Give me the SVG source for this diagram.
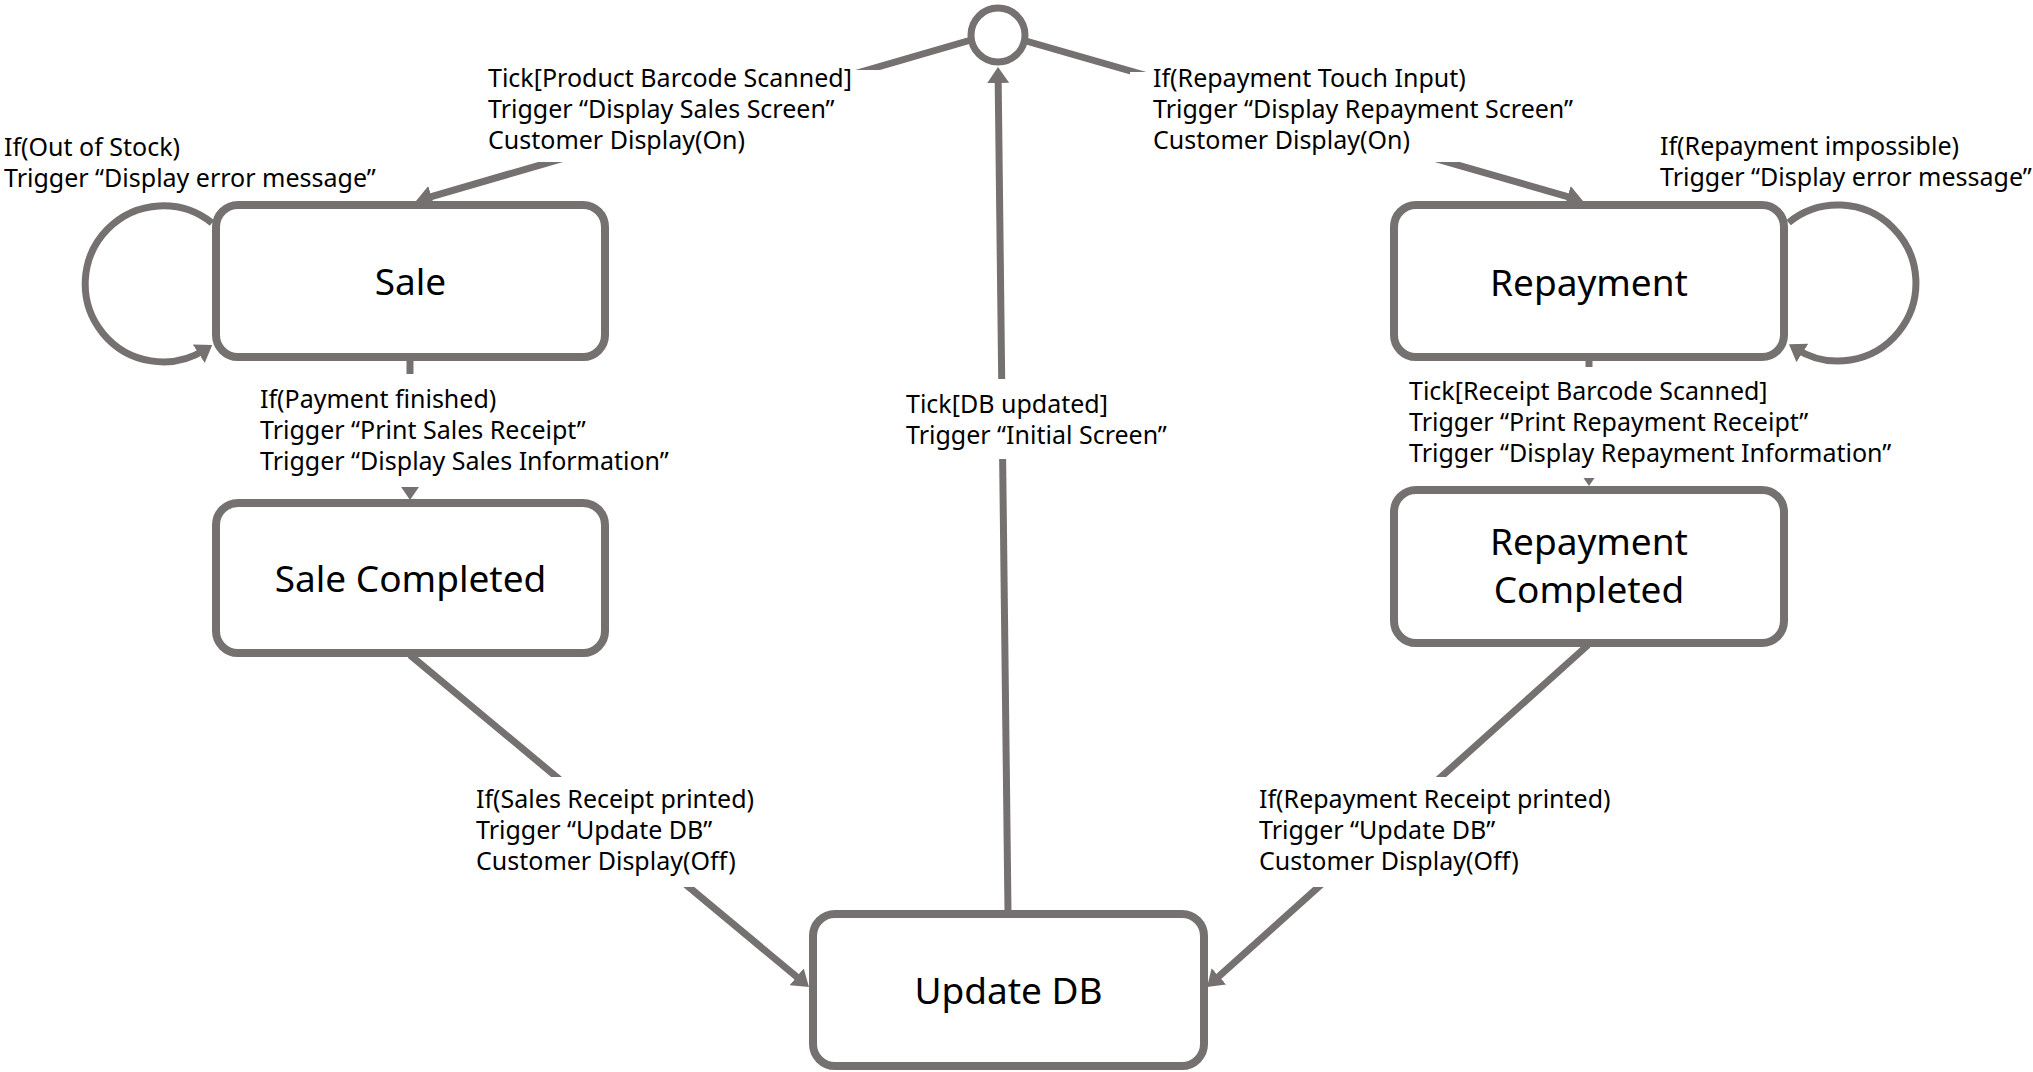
<svg xmlns="http://www.w3.org/2000/svg" width="2033" height="1072" viewBox="0 0 2033 1072">
<style>
.node{fill:#ffffff;stroke:#767171;stroke-width:8}
.ntext{font-family:"Noto Sans","Liberation Sans",sans-serif;font-size:37px;fill:#000000;text-anchor:middle}
.edge{fill:none;stroke:#767171;stroke-width:7}
.lbl{font-family:"Noto Sans","Liberation Sans",sans-serif;font-size:25px;fill:#000000}
.lbg{fill:#ffffff;stroke:none}
</style>
<defs>
<marker id="arr" viewBox="0 0 16 22" refX="8" refY="11" markerWidth="16" markerHeight="22" markerUnits="userSpaceOnUse" orient="auto">
<path d="M0,0 L16,11 L0,22 z" fill="#767171"/>
</marker>
</defs>
<rect width="2033" height="1072" fill="#ffffff"/>

<g id="connectors">
  <g id="e-choice-sale">
    <path class="edge" d="M971 40 L423.7 198.8" marker-end="url(#arr)"/>
    <rect class="lbg" x="484" y="70" width="396" height="92"/>
    <text class="lbl" x="488" y="87">Tick[Product Barcode Scanned]</text>
    <text class="lbl" x="488" y="118">Trigger “Display Sales Screen”</text>
    <text class="lbl" x="488" y="149">Customer Display(On)</text>
  </g>
  <g id="e-choice-repayment">
    <path class="edge" d="M1026 41 L1575.3 198.8" marker-end="url(#arr)"/>
    <rect class="lbg" x="1130" y="72" width="470" height="90"/>
    <text class="lbl" x="1153" y="87">If(Repayment Touch Input)</text>
    <text class="lbl" x="1153" y="118">Trigger “Display Repayment Screen”</text>
    <text class="lbl" x="1153" y="149">Customer Display(On)</text>
  </g>
  <g id="e-sale-loop">
    <path class="edge" d="M212 223 A78 78 0 1 0 205.5 349.4" marker-end="url(#arr)"/>
    <text class="lbl" x="4" y="156">If(Out of Stock)</text>
    <text class="lbl" x="4" y="187">Trigger “Display error message”</text>
  </g>
  <g id="e-repayment-loop">
    <path class="edge" d="M1788.6 222.6 A78 78 0 1 1 1795.7 348.6" marker-end="url(#arr)"/>
    <text class="lbl" x="1660" y="155">If(Repayment impossible)</text>
    <text class="lbl" x="1660" y="186">Trigger “Display error message”</text>
  </g>
  <g id="e-sale-salecompleted">
    <path class="edge" d="M410 357 L410 492" marker-end="url(#arr)"/>
    <rect class="lbg" x="255" y="374" width="420" height="113"/>
    <text class="lbl" x="260" y="408">If(Payment finished)</text>
    <text class="lbl" x="260" y="439">Trigger “Print Sales Receipt”</text>
    <text class="lbl" x="260" y="470">Trigger “Display Sales Information”</text>
  </g>
  <g id="e-repayment-repaymentcompleted">
    <path class="edge" d="M1589 357 L1589 478" marker-end="url(#arr)"/>
    <rect class="lbg" x="1400" y="367" width="490" height="111"/>
    <text class="lbl" x="1409" y="400">Tick[Receipt Barcode Scanned]</text>
    <text class="lbl" x="1409" y="431">Trigger “Print Repayment Receipt”</text>
    <text class="lbl" x="1409" y="462">Trigger “Display Repayment Information”</text>
  </g>
  <g id="e-updatedb-choice">
    <path class="edge" d="M1008 912 L998.1 75" marker-end="url(#arr)"/>
    <rect class="lbg" x="900" y="379" width="270" height="80"/>
    <text class="lbl" x="906" y="413">Tick[DB updated]</text>
    <text class="lbl" x="906" y="444">Trigger “Initial Screen”</text>
  </g>
  <g id="e-salecompleted-updatedb">
    <path class="edge" d="M410 655 L802.8 981.9" marker-end="url(#arr)"/>
    <rect class="lbg" x="470" y="777" width="290" height="110"/>
    <text class="lbl" x="476" y="808">If(Sales Receipt printed)</text>
    <text class="lbl" x="476" y="839">Trigger “Update DB”</text>
    <text class="lbl" x="476" y="870">Customer Display(Off)</text>
  </g>
  <g id="e-repaymentcompleted-updatedb">
    <path class="edge" d="M1588 645 L1213 981.7" marker-end="url(#arr)"/>
    <rect class="lbg" x="1250" y="777" width="360" height="110"/>
    <text class="lbl" x="1259" y="808">If(Repayment Receipt printed)</text>
    <text class="lbl" x="1259" y="839">Trigger “Update DB”</text>
    <text class="lbl" x="1259" y="870">Customer Display(Off)</text>
  </g>
</g>

<g id="choice">
  <circle cx="998" cy="35" r="27" fill="#ffffff" stroke="#767171" stroke-width="7"/>
</g>
<g id="sale">
  <rect class="node" x="216" y="205" width="389" height="152" rx="22"/>
  <text class="ntext" x="410.5" y="295">Sale</text>
</g>
<g id="sale-completed">
  <rect class="node" x="216" y="503" width="389" height="150" rx="22"/>
  <text class="ntext" x="410.5" y="592">Sale Completed</text>
</g>
<g id="repayment">
  <rect class="node" x="1394" y="205" width="390" height="152" rx="22"/>
  <text class="ntext" x="1589" y="296">Repayment</text>
</g>
<g id="repayment-completed">
  <rect class="node" x="1394" y="490" width="390" height="153" rx="22"/>
  <text class="ntext" x="1589" y="555">Repayment</text>
  <text class="ntext" x="1589" y="603">Completed</text>
</g>
<g id="update-db">
  <rect class="node" x="813" y="914" width="391" height="152" rx="22"/>
  <text class="ntext" x="1008.5" y="1004">Update DB</text>
</g>
</svg>
